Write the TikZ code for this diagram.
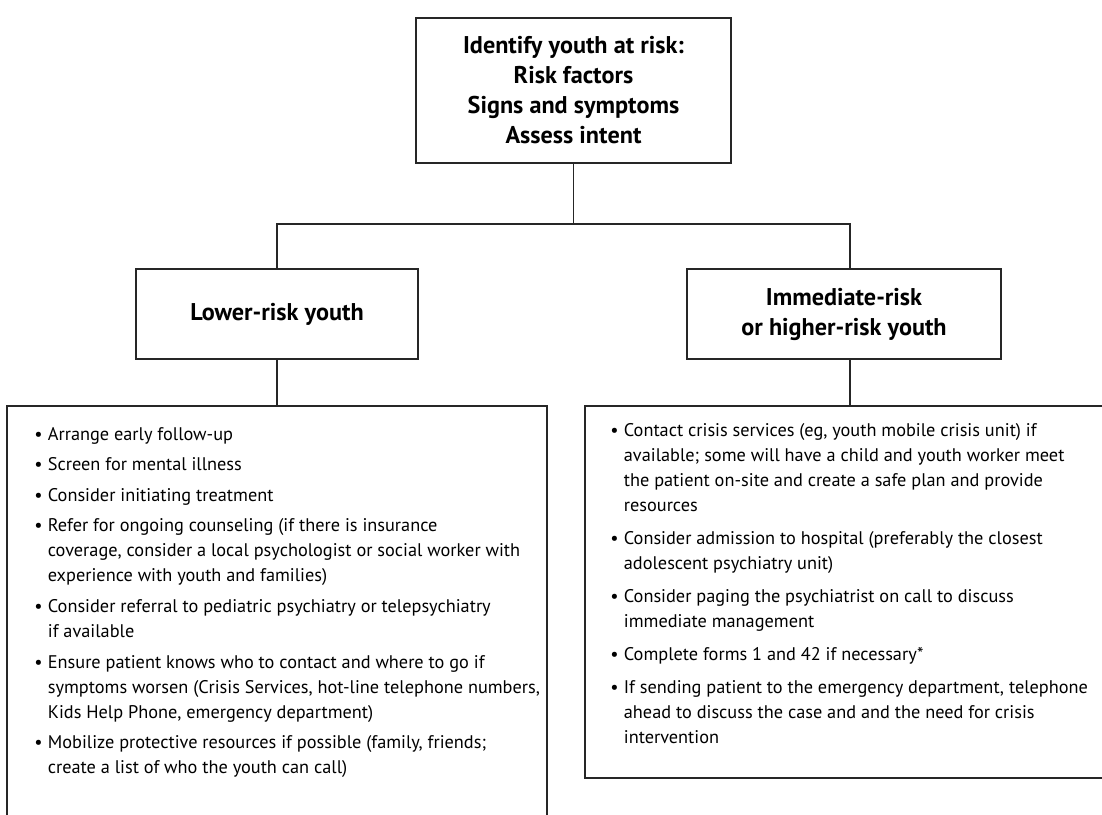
\documentclass[tikz,border=0pt]{standalone}
\usepackage{fontspec}
\setmainfont{PT Sans}
\usetikzlibrary{calc}
\tikzset{
	box/.style={draw=black!85, line width=0.65pt, inner sep=0pt},
	head/.style={box, font=\bfseries\fontsize{12.1}{15}\selectfont, align=center},
	list/.style={anchor=base west, inner sep=0pt, font=\fontsize{9.15}{12.5}\selectfont},
	link/.style={draw=black!85, line width=0.65pt}
}
\def\gap{2.8pt}

\begin{document}
\begin{tikzpicture}[x=0.5pt, y=-0.5pt]
		%%%%% START %%%%%
		\clip (0, 0) rectangle (1102, 814);
		
		% boxes
		\node[head, minimum width=157.5pt, minimum height=72.5pt] (risk) at (573.5, 90.5)
			{Identify youth at risk:\\Risk factors\\Signs and symptoms\\Assess intent};
		\node[head, minimum width=141pt, minimum height=45pt] (lower) at (277, 314) {Lower-risk youth};
		\node[head, minimum width=157pt, minimum height=45pt] (higher) at (844, 314) {Immediate-risk\\or higher-risk youth};
		\node[box, minimum width=270pt, minimum height=217pt] (lowerplan) at (277, 623) {};
		\node[box, minimum width=265pt, minimum height=186pt] (higherplan) at (850, 592) {};
		
		% connectors
		\coordinate (split) at (573.5, 224);
		\draw[link] (risk.south) -- (split);
		\draw[link] (lower.north) |- (split) -| (higherplan.north |- higher.north);
		\draw[link] (lower.south) -- (lowerplan.north);
		\draw[link] (higherplan.north |- higher.south) -- (higherplan.north);
		
		% lists
		\node[list] (lowerlist) at (34, 440) {\begin{tabular}[t]{@{}l@{\hspace{2.6pt}}l@{}}
			\textbullet & Arrange early follow-up\\[\gap]
			\textbullet & Screen for mental illness\\[\gap]
			\textbullet & Consider initiating treatment\\[\gap]
			\textbullet & Refer for ongoing counseling (if there is insurance\\
			& coverage, consider a local psychologist or social worker with\\
			& experience with youth and families)\\[\gap]
			\textbullet & Consider referral to pediatric psychiatry or telepsychiatry\\
			& if available\\[\gap]
			\textbullet & Ensure patient knows who to contact and where to go if\\
			& symptoms worsen (Crisis Services, hot-line telephone numbers,\\
			& Kids Help Phone, emergency department)\\[\gap]
			\textbullet & Mobilize protective resources if possible (family, friends;\\
			& create a list of who the youth can call)
		\end{tabular}};
		
		\node[list] (higherlist) at (610, 436) {\begin{tabular}[t]{@{}l@{\hspace{2.6pt}}l@{}}
			\textbullet & Contact crisis services (eg, youth mobile crisis unit) if\\
			& available; some will have a child and youth worker meet\\
			& the patient on-site and create a safe plan and provide\\
			& resources\\[4pt]
			\textbullet & Consider admission to hospital (preferably the closest\\
			& adolescent psychiatry unit)\\[4pt]
			\textbullet & Consider paging the psychiatrist on call to discuss\\
			& immediate management\\[4pt]
			\textbullet & Complete forms 1 and 42 if necessary*\\[4pt]
			\textbullet & If sending patient to the emergency department, telephone\\
			& ahead to discuss the case and and the need for crisis\\
			& intervention
		\end{tabular}};
		%%%%% END %%%%%
\end{tikzpicture}
\end{document}
